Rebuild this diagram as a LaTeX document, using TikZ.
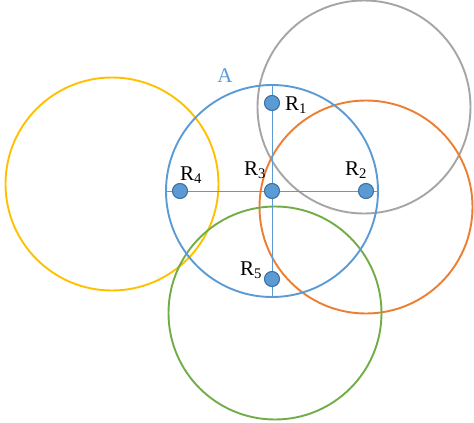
\documentclass[tikz,border=0pt]{standalone}
\usepackage{fontspec}
\setmainfont{Liberation Serif}
\definecolor{ablue}{HTML}{5B9BD5}
\definecolor{adark}{HTML}{41719C}
\definecolor{agray}{HTML}{A5A5A5}
\definecolor{aorange}{HTML}{ED7D31}
\definecolor{ayellow}{HTML}{FFC000}
\definecolor{agreen}{HTML}{70AD47}
\begin{document}
\begin{tikzpicture}[x=1pt,y=-1pt,
  ring/.style={circle,draw,line width=1.9pt,minimum size=213pt,inner sep=0pt},
  pt/.style={circle,fill=ablue,draw=adark,line width=1.1pt,minimum size=15pt,inner sep=0pt},
  lbl/.style={font=\fontsize{21}{24}\selectfont,inner sep=0pt}]
  \useasboundingbox (0,0) rectangle (474,423);
  \node[ring,draw=agray] (gray) at (364,107) {};
  \node[ring,draw=aorange] (orange) at (366,207) {};
  \node[ring,draw=ayellow] (yellow) at (112,184) {};
  \node[ring,draw=agreen] (green) at (275,313) {};
  \node[ring,draw=ablue,minimum size=212pt] (a) at (272,191) {};
  \node[lbl,text=ablue] (alabel) at (225,76) {A};
  \draw[ablue,line width=0.9pt] (a.west) -- (a.east);
  \draw[ablue,line width=0.9pt] (a.north) -- (a.south);
  \node[pt] (r1) at (272,103) {};
  \node[pt] (r2) at (366,191) {};
  \node[pt] (r3) at (272,191) {};
  \node[pt] (r4) at (180,191) {};
  \node[pt] (r5) at (272,279) {};
  \node[lbl] (l1) at (296,105) {R\textsubscript{1}};
  \node[lbl] (l2) at (356,170) {R\textsubscript{2}};
  \node[lbl] (l3) at (255,170) {R\textsubscript{3}};
  \node[lbl] (l4) at (191,175) {R\textsubscript{4}};
  \node[lbl] (l5) at (251,270) {R\textsubscript{5}};
\end{tikzpicture}
\end{document}
